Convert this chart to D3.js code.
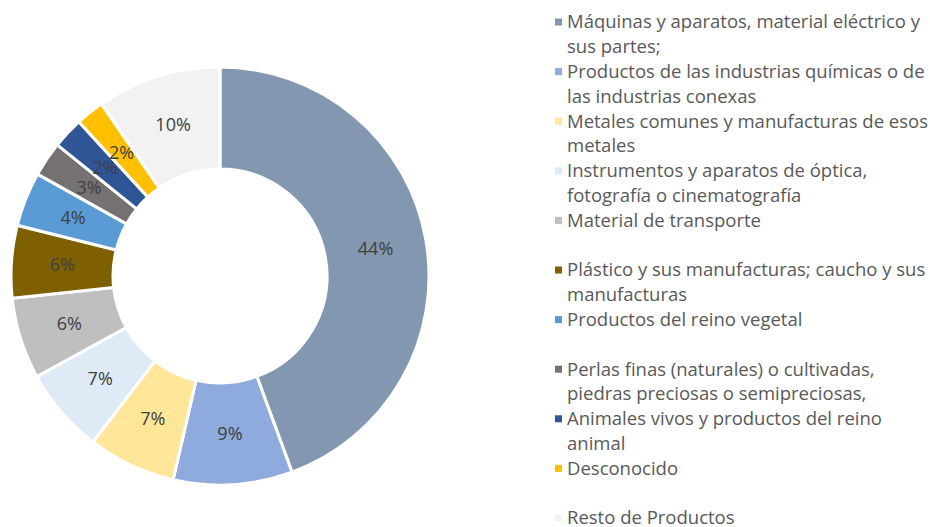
<!DOCTYPE html>
<html>
<head>
<meta charset="utf-8">
<script src="https://cdn.jsdelivr.net/npm/d3@7"></script>
<style>
  body { margin: 0; background: #fff; }
  svg { font-family: "Open Sans", "Noto Sans", sans-serif; }
</style>
</head>
<body>
<div id="chart"></div>
<script>
// categories and shares (%)
const categories = [
  "Máquinas y aparatos, material eléctrico y sus partes;",
  "Productos de las industrias químicas o de las industrias conexas",
  "Metales comunes y manufacturas de esos metales",
  "Instrumentos y aparatos de óptica, fotografía o cinematografía",
  "Material de transporte",
  "Plástico y sus manufacturas; caucho y sus manufacturas",
  "Productos del reino vegetal",
  "Perlas finas (naturales) o cultivadas, piedras preciosas o semipreciosas,",
  "Animales vivos y productos del reino animal",
  "Desconocido",
  "Resto de Productos"
];
const shares = [44.4, 9.2, 6.8, 6.6, 6.3, 5.6, 4.2, 2.7, 2.4, 2.2, 9.6];
const colors = ["#8497B0", "#8FAADC", "#FFE699", "#DEEBF7", "#BFBFBF", "#7F6000",
                "#5B9BD5", "#767171", "#2F5597", "#FFC000", "#F2F2F2"];

const width = 930, height = 527;
const cx = 220, cy = 276;
const outerR = 209, innerR = 107;

const svg = d3.select("#chart").append("svg")
  .attr("width", width)
  .attr("height", height);

const data = categories.map((c, i) => ({ name: c, value: shares[i], color: colors[i] }));

const pie = d3.pie().value(d => d.value).sort(null);
const arc = d3.arc().innerRadius(innerR).outerRadius(outerR);

const g = svg.append("g").attr("transform", `translate(${cx},${cy})`);

const slices = g.selectAll("g.slice")
  .data(pie(data))
  .enter().append("g").attr("class", "slice");

slices.append("path")
  .attr("d", arc)
  .attr("fill", d => d.data.color)
  .attr("stroke", "white")
  .attr("stroke-width", 3);

slices.append("text")
  .attr("transform", d => `translate(${arc.centroid(d)})`)
  .attr("text-anchor", "middle")
  .attr("dy", "0.35em")
  .attr("font-size", 18)
  .attr("fill", "#404040")
  .text(d => Math.round(d.data.value) + "%");

// legend: each entry takes two lines
const lx = 555, ly = 22, lineH = 24.8, maxW = 365;
const legend = svg.append("g");

data.forEach((d, i) => {
  const y0 = ly + i * 2 * lineH;
  legend.append("rect")
    .attr("x", lx).attr("y", y0 - 3.5)
    .attr("width", 7).attr("height", 7)
    .attr("fill", d.color);

  const t = legend.append("text")
    .attr("x", lx + 12)
    .attr("font-size", 18.5)
    .attr("fill", "#595959");

  const words = d.name.split(" ");
  let line = [], lineNo = 0;
  let tspan = t.append("tspan").attr("x", lx + 12).attr("y", y0).attr("dy", "0.35em");
  words.forEach(w => {
    line.push(w);
    tspan.text(line.join(" "));
    if (tspan.node().getComputedTextLength() > maxW && line.length > 1) {
      line.pop();
      tspan.text(line.join(" "));
      line = [w];
      lineNo++;
      tspan = t.append("tspan").attr("x", lx + 12)
        .attr("y", y0 + lineNo * lineH).attr("dy", "0.35em").text(w);
    }
  });
});
</script>
</body>
</html>
